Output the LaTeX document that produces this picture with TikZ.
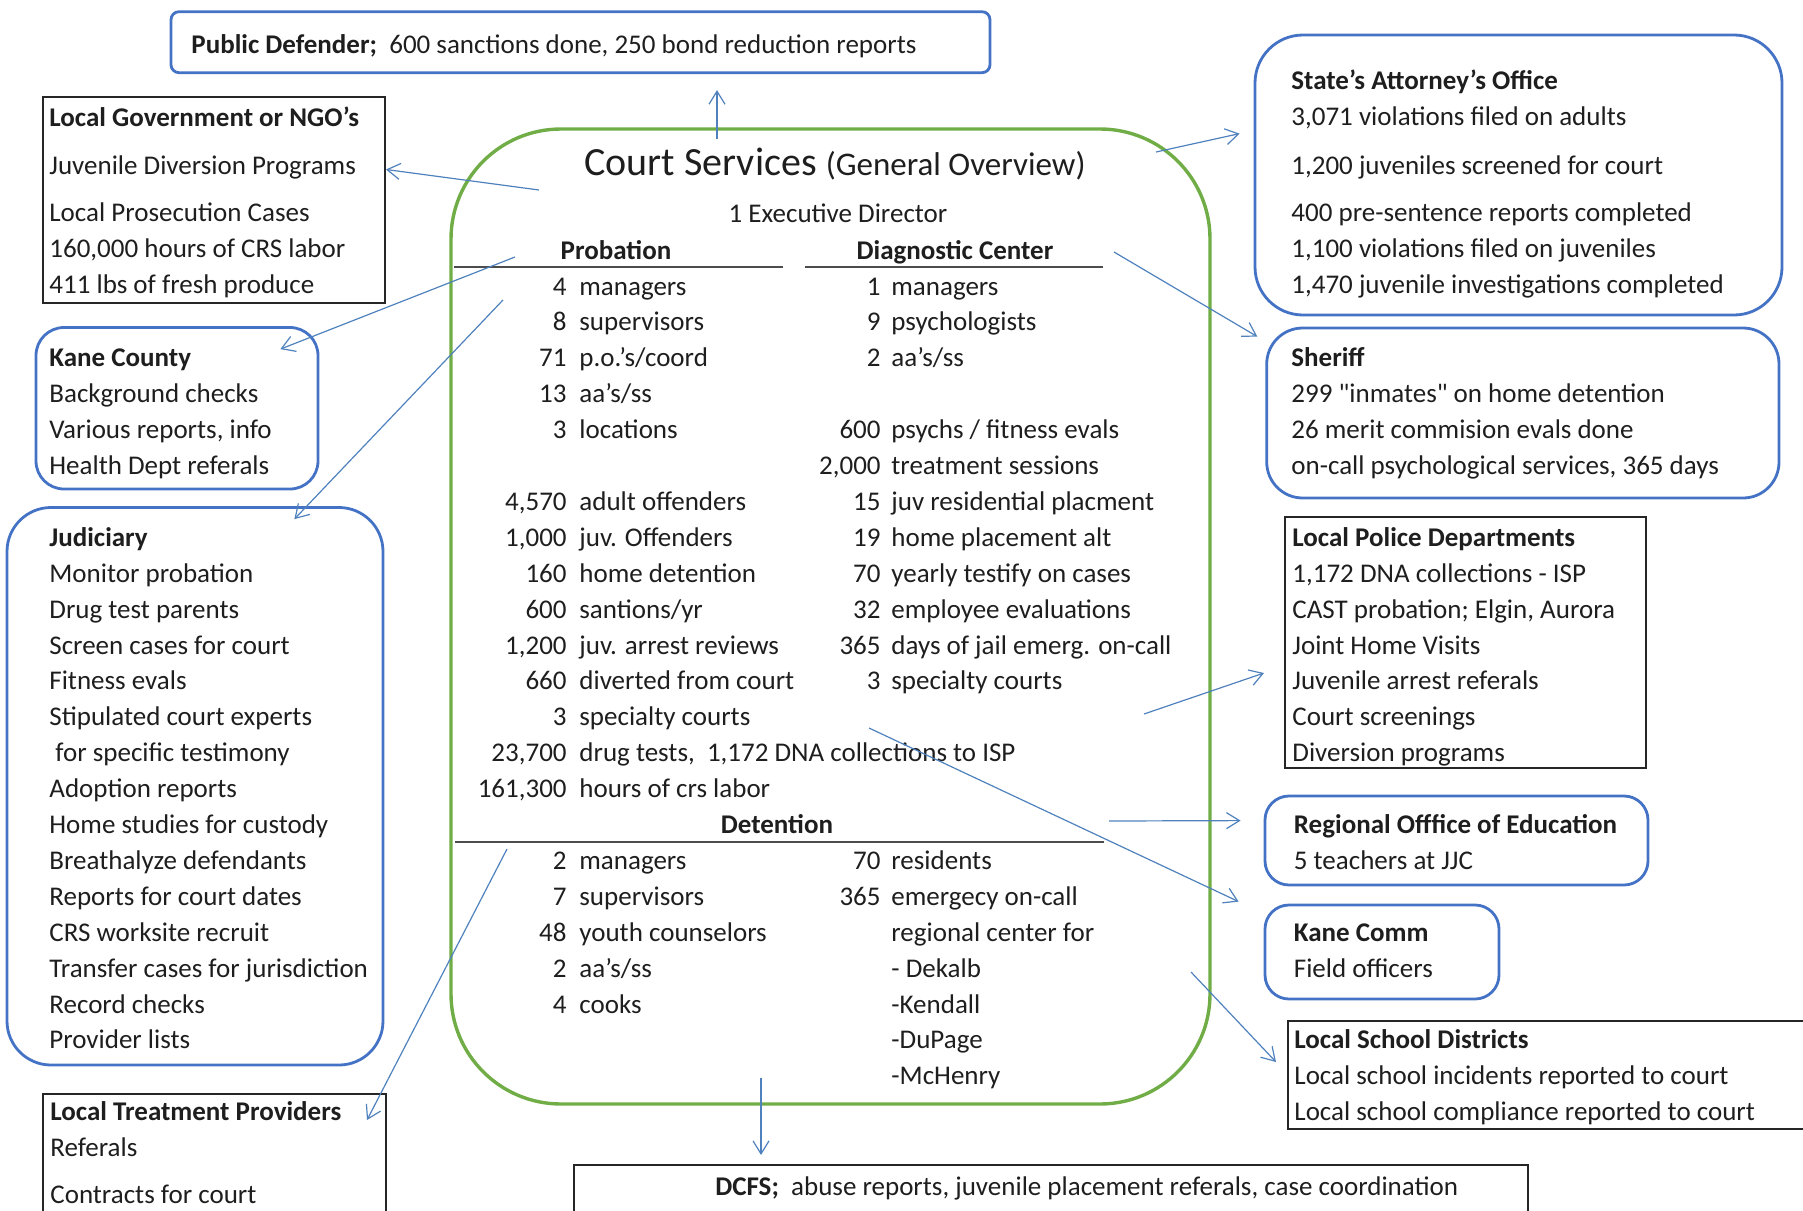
\documentclass[tikz,border=0pt]{standalone}
\usepackage{fontspec}
\setmainfont{Carlito}
\newfontfamily\rawfont{Carlito}
\usetikzlibrary{arrows.meta,positioning,calc,fit}
\definecolor{ofblue}{RGB}{68,114,196}
\definecolor{lnblue}{RGB}{79,129,189}
\definecolor{ofgreen}{RGB}{112,173,71}
\definecolor{ink}{RGB}{30,30,30}
\newcommand{\bodyfont}{\fontsize{13.5pt}{17.95pt}\selectfont}
\newcommand{\rows}[1]{\begin{tabular}[t]{@{}l@{}}#1\end{tabular}}
\newcommand{\nums}[1]{\begin{tabular}[t]{@{}r@{}}#1\end{tabular}}

\begin{document}
\begin{tikzpicture}
[x=.5pt,y=-.5pt,
box/.style={draw=black!85,line width=1pt,inner sep=0pt},
rbox/.style={draw=ofblue,line width=1.4pt,inner sep=0pt,rounded corners=#1},
txt/.style={anchor=base west,inner sep=0pt,text=ink,font=\bodyfont},
num/.style={anchor=base east,inner sep=0pt,text=ink,font=\bodyfont},
head/.style={anchor=base,inner sep=0pt,text=ink,font=\bodyfont\bfseries},
rule/.style={draw=black!70,line width=1pt},
link/.style={draw=lnblue,line width=.6pt,-{Straight Barb[length=6.5pt,width=8pt]}}]
\path[use as bounding box] (0,0) rectangle (1803,1210);
\clip (0,0) rectangle (1803,1210);
%% the court services block
\node (cs) [fit={(451,129) (1210,1104)},draw=ofgreen,line width=1.7pt,
rounded corners=55pt,inner sep=0pt] {};
\node (title) at (835,175) [anchor=base,inner sep=0pt,text=ink]
{\fontsize{20pt}{24pt}\selectfont Court Services
\fontsize{16.5pt}{20pt}\selectfont(General Overview)};
\node (exec) at (838,222) [anchor=base,inner sep=0pt,text=ink,font=\bodyfont]
{1 Executive Director};
\node[head] (prob) at (616,259.1) {Probation};
\node[head] (diag) at (955,259.1) {Diagnostic Center};
\draw[rule] (454,267) -- (783,267);
\draw[rule] (805,267) -- (1103,267);
\node[num] (prob-n) at (567,295) {\nums{4\\8\\71\\13\\3\\ \\4,570\\1,000\\160\\600\\
1,200\\660\\3\\23,700\\161,300}};
\node[txt] (prob-t) at (579,295) {\rows{managers\\supervisors\\p.o.'s/coord\\
aa's/ss\\locations\\ \\adult offenders\\juv. Offenders\\home detention\\
santions/yr\\juv. arrest reviews\\diverted from court\\specialty courts\\
drug tests,\ \ 1,172 DNA collections to ISP\\hours of crs labor}};
\node[num] (diag-n) at (881,295) {\nums{1\\9\\2\\ \\600\\2,000\\15\\19\\70\\32\\
365\\3}};
\node[txt] (diag-t) at (891,295) {\rows{managers\\psychologists\\aa's/ss\\ \\
psychs / fitness evals\\treatment sessions\\juv residential placment\\
home placement alt\\yearly testify on cases\\employee evaluations\\
days of jail emerg. on-call\\specialty courts}};
\node[head] (det) at (777,833.5) {Detention};
\draw[rule] (455,842) -- (1104,842);
\node[num] (det-n) at (567,869.4) {\nums{2\\7\\48\\2\\4}};
\node[txt] (det-t) at (579,869.4) {\rows{managers\\supervisors\\
youth counselors\\aa's/ss\\cooks}};
\node[num] (res-n) at (881,869.4) {\nums{70\\365}};
\node[txt] (res-t) at (891,869.4) {\rows{residents\\emergecy on-call\\
regional center for\\- Dekalb\\-Kendall\\-DuPage\\-McHenry}};
%% left side
\node (pd) [fit={(171,11.7) (990,72.7)},rbox=4pt] {};
\node[txt] (pd-t) at (191,53.3) {\textbf{Public Defender;}\ \ 600 sanctions
done, 250 bond reduction reports};
\node (lg) [fit={(42.7,97) (385,302.7)},box] {};
\node[txt] (lg-t) at (49,126) {\rows{\textbf{Local Government or NGO's}\\[6.5pt]
Juvenile Diversion Programs\\[5.5pt]Local Prosecution Cases\\
160,000 hours of CRS labor\\411 lbs of fresh produce}};
\node (kc) [fit={(36,327.5) (318,489)},rbox=14pt] {};
\node[txt] (kc-t) at (49,366.8) {\rows{\textbf{Kane County}\\Background checks\\
Various reports, info\\Health Dept referals}};
\node (jud) [fit={(7,507.5) (383,1065)},rbox=22pt] {};
\node[txt] (jud-t) at (49,546.3) {\rows{\textbf{Judiciary}\\Monitor probation\\
Drug test parents\\Screen cases for court\\Fitness evals\\
Stipulated court experts\\\hspace{3pt}for specific testimony\\Adoption reports\\
Home studies for custody\\Breathalyze defendants\\Reports for court dates\\
CRS worksite recruit\\Transfer cases for jurisdiction\\Record checks\\
Provider lists}};
\node (ltp) [fit={(43,1094) (386,1225)},box] {};
\node[txt] (ltp-t) at (50,1120.7) {\rows{\textbf{Local Treatment Providers}\\
Referals\\[5.5pt]Contracts for court}};
\node (dcfs) [fit={(574,1165) (1528,1225)},box] {};
\node[txt] (dcfs-t) at (715,1195) {\textbf{DCFS;}\ \ abuse reports, juvenile
placement referals, case coordination};
%% right side
\node (sa) [fit={(1255,35) (1782,315)},rbox=24pt] {};
\node[txt] (sa-t) at (1291,89.5) {\rows{\textbf{State's Attorney's Office}\\
3,071 violations filed on adults\\[6.5pt]1,200 juveniles screened for court\\[5.5pt]
400 pre-sentence reports completed\\1,100 violations filed on juveniles\\
1,470 juvenile investigations completed}};
\node (sh) [fit={(1266.7,328) (1779,498)},rbox=18pt] {};
\node[txt] (sh-t) at (1291,366.8) {\rows{\textbf{Sheriff}\\
299 {\rawfont"inmates"} on home detention\\26 merit commision evals done\\
on-call psychological services, 365 days}};
\node (pol) [fit={(1285,517) (1646,768)},box] {};
\node[txt] (pol-t) at (1292,546.3) {\rows{\textbf{Local Police Departments}\\
1,172 DNA collections - ISP\\CAST probation; Elgin, Aurora\\Joint Home Visits\\
Juvenile arrest referals\\Court screenings\\Diversion programs}};
\node (reo) [fit={(1265,796) (1648,885)},rbox=12pt] {};
\node[txt] (reo-t) at (1293.5,833.5) {\rows{\textbf{Regional Offfice of Education}\\
5 teachers at JJC}};
\node (kcomm) [fit={(1265,905) (1499,999)},rbox=12pt] {};
\node[txt] (kcomm-t) at (1293.5,941.2) {\rows{\textbf{Kane Comm}\\Field officers}};
\node (lsd) [fit={(1288,1021) (1806,1129)},box] {};
\node[txt] (lsd-t) at (1294,1048.9) {\rows{\textbf{Local School Districts}\\
Local school incidents reported to court\\
Local school compliance reported to court}};
%% connectors
\coordinate (s-pd) at (717,139);
\coordinate (s-lg) at (539,190);
\coordinate (s-kc) at (515,257);
\coordinate (s-jud) at (503,300);
\coordinate (s-ltp) at (507,849);
\coordinate (s-dcfs) at (761,1078);
\coordinate (s-sa) at (1156,152);
\coordinate (s-sh) at (1114,252);
\coordinate (s-pol) at (1144,714);
\coordinate (s-reo) at (1109,821);
\coordinate (s-kcomm) at (869,728);
\coordinate (s-lsd) at (1191,972);
\draw[link,shorten >=8pt] (s-pd) -- (s-pd |- pd.south);
\draw[link] (s-lg) -- (lg.10);
\draw[link] (s-kc) -- ($(kc.north east)+(-39,23)$);
\draw[link] (s-jud) -- ($(jud.north east)+(-90,13)$);
\draw[link] (s-ltp) -- ($(ltp.north east)+(-20,27)$);
\draw[link,shorten >=4.5pt] (s-dcfs) -- (s-dcfs |- dcfs.north);
\draw[link] (s-sa) -- ($(sa.north west)+(-14,100)$);
\draw[link] (s-sh) -- ($(sh.north west)+(-8,10)$);
\draw[link] (s-pol) -- ($(pol.north west)+(-20,157)$);
\draw[link] (s-reo) -- ($(reo.north west)+(-23,26)$);
\draw[link] (s-kcomm) -- ($(kcomm.north west)+(-25,-2)$);
\draw[link] (s-lsd) -- ($(lsd.north west)+(-11,42)$);
\end{tikzpicture}
\end{document}
